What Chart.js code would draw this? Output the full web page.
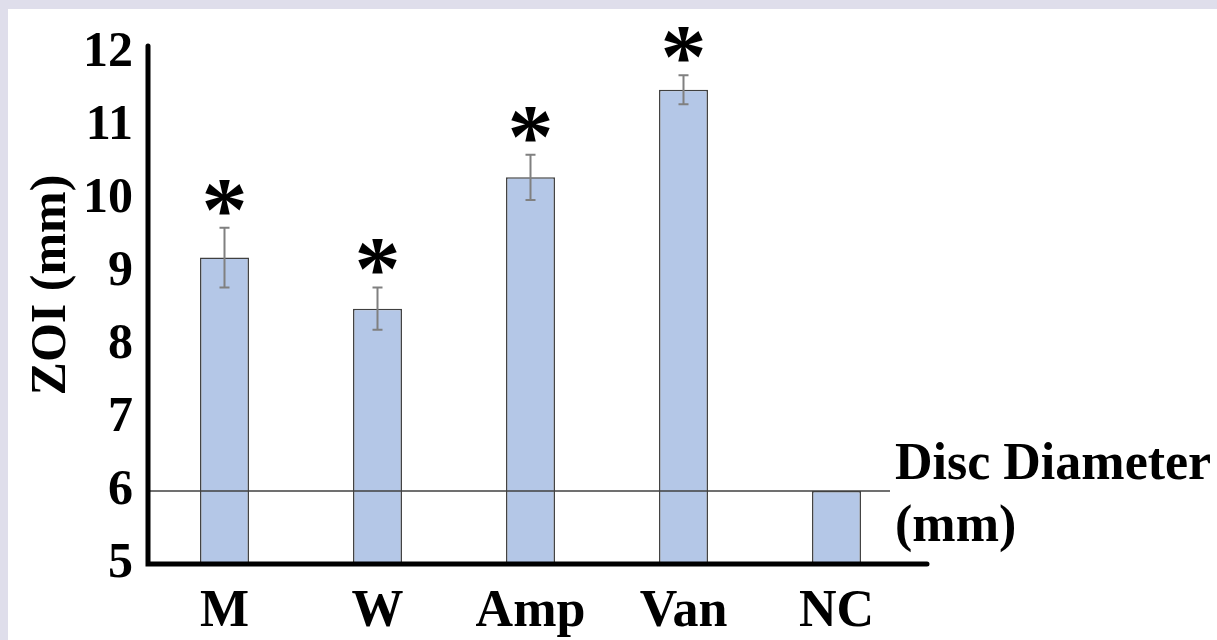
<!DOCTYPE html>
<html lang="en">
<head>
    <meta charset="UTF-8">
    <title>ZOI (mm)</title>
    <script src="https://cdn.jsdelivr.net/npm/chart.js"></script>
    <style>
        html, body { margin: 0; padding: 0; background: #dfdeeb; width: 1217px; height: 640px; overflow: hidden; }
        .panel { position: absolute; left: 8px; top: 9px; width: 1209px; height: 631px; background: #ffffff; }
    </style>
</head>
<body>
    <div class="panel"><canvas id="grafica" width="1209" height="631"></canvas></div>
    <script>
        // datos
        const categorias = ['M', 'W', 'Amp', 'Van', 'NC'];
        const medias = [9.2, 8.5, 10.3, 11.5, 6];
        const errores = [0.41, 0.29, 0.31, 0.2, 0];
        const asteriscos = ['*', '*', '*', '*', ''];
        const ticksY = [5, 6, 7, 8, 9, 10, 11, 12];
        const diametroDisco = 6;
        const etiquetaDisco = ['Disc Diameter', '(mm)'];
        const tituloY = 'ZOI (mm)';

        const fuente = '"Liberation Serif", "Times New Roman", serif';

        // barras de error, asteriscos, linea del disco, ejes y textos
        const extras = {
            id: 'extras',
            afterDatasetsDraw(chart) {
                const ctx = chart.ctx;
                const x = chart.scales.x;
                const y = chart.scales.y;
                const area = chart.chartArea;

                ctx.save();
                // linea del diametro del disco
                const yd = y.getPixelForValue(diametroDisco);
                ctx.strokeStyle = '#404040';
                ctx.lineWidth = 1.5;
                ctx.beginPath();
                ctx.moveTo(area.left, yd);
                ctx.lineTo(area.right - 23, yd);
                ctx.stroke();

                // barras de error
                ctx.strokeStyle = '#808080';
                ctx.lineWidth = 2;
                medias.forEach((m, i) => {
                    if (!errores[i]) return;
                    const cx = x.getPixelForValue(i);
                    const t = y.getPixelForValue(m + errores[i]);
                    const b = y.getPixelForValue(m - errores[i]);
                    ctx.beginPath();
                    ctx.moveTo(cx, t); ctx.lineTo(cx, b);
                    ctx.moveTo(cx - 5, t); ctx.lineTo(cx + 5, t);
                    ctx.moveTo(cx - 5, b); ctx.lineTo(cx + 5, b);
                    ctx.stroke();
                });

                // asteriscos
                ctx.fillStyle = '#000';
                ctx.font = 'bold 92px ' + fuente;
                ctx.textAlign = 'center';
                ctx.textBaseline = 'alphabetic';
                medias.forEach((m, i) => {
                    if (!asteriscos[i]) return;
                    const cx = x.getPixelForValue(i);
                    const t = y.getPixelForValue(m + errores[i]);
                    ctx.fillText(asteriscos[i], cx, t + 12);
                });

                // ejes
                ctx.strokeStyle = '#000';
                ctx.lineWidth = 5;
                ctx.lineCap = 'round';
                ctx.beginPath();
                ctx.moveTo(area.left, area.top);
                ctx.lineTo(area.left, area.bottom);
                ctx.lineTo(area.right + 14, area.bottom);
                ctx.stroke();

                // etiqueta del disco
                ctx.font = 'bold 52px ' + fuente;
                ctx.textAlign = 'left';
                ctx.textBaseline = 'middle';
                ctx.fillText(etiquetaDisco[0], area.right - 18, yd - 25);
                ctx.fillText(etiquetaDisco[1], area.right - 18, yd + 37);

                // titulo del eje y
                ctx.translate(44, (area.top + area.bottom) / 2 - 20);
                ctx.rotate(-Math.PI / 2);
                ctx.font = 'bold 50px ' + fuente;
                ctx.textAlign = 'center';
                ctx.fillText(tituloY, 0, 0);
                ctx.restore();
            }
        };

        new Chart(document.getElementById('grafica'), {
            type: 'bar',
            data: {
                labels: categorias,
                datasets: [{
                    data: medias,
                    backgroundColor: '#b4c7e7',
                    borderColor: '#404040',
                    borderWidth: 1.5,
                    borderSkipped: 'bottom',
                    categoryPercentage: 1,
                    barPercentage: 0.32
                }]
            },
            options: {
                responsive: false,
                animation: false,
                events: [],
                layout: { padding: { left: 0, top: 31, right: 304, bottom: 0 } },
                plugins: { legend: { display: false }, tooltip: { enabled: false } },
                scales: {
                    x: {
                        grid: { display: false },
                        border: { display: false },
                        ticks: {
                            color: '#000',
                            padding: 9,
                            font: { family: fuente, weight: 'bold', size: 52 }
                        },
                        afterFit(s) { s.height = 76; }
                    },
                    y: {
                        min: 5,
                        max: 12.1,
                        grid: { display: false },
                        border: { display: false },
                        afterBuildTicks(s) { s.ticks = ticksY.map(v => ({ value: v })); },
                        ticks: {
                            color: '#000',
                            padding: 7,
                            font: { family: fuente, weight: 'bold', size: 50 }
                        },
                        afterFit(s) { s.width = 140; }
                    }
                }
            },
            plugins: [extras]
        });
    </script>
</body>
</html>
